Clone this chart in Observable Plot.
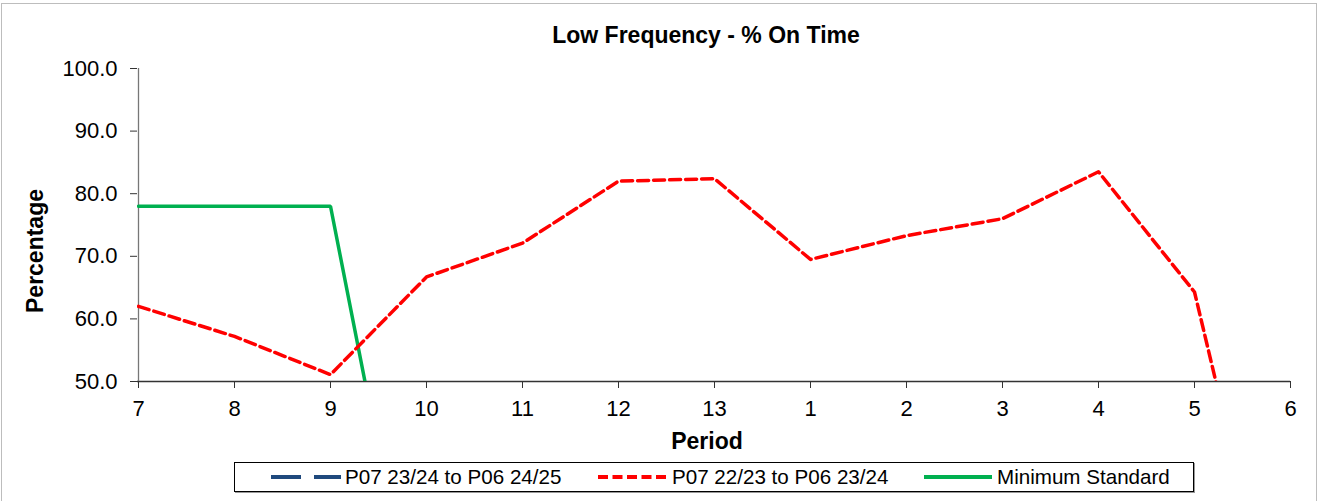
<!DOCTYPE html>
<html>
<head>
<meta charset="utf-8">
<script src="https://cdn.jsdelivr.net/npm/d3@7"></script>
<script src="https://cdn.jsdelivr.net/npm/@observablehq/plot@0.6"></script>
<style>
  html, body { margin: 0; padding: 0; background: #fff; }
  body { width: 1322px; height: 501px; overflow: hidden; position: relative; font-family: "Liberation Sans", Arial, sans-serif; }
  #frame { position: absolute; left: 1px; top: 3px; width: 1316px; height: 520px; border: 1px solid #bdbdbd; box-sizing: border-box; }
  #chart { position: absolute; left: 0; top: 0; }
  #legend { position: absolute; left: 234px; top: 462px; width: 960px; height: 30px; border: 1px solid #000; box-sizing: border-box; background: #fff; font-size: 20.6px; color: #000; box-shadow: 1px 1px 0 #999; }
  .sw { position: absolute; top: 9px; }
  .lt { position: absolute; top: 2px; line-height: 24px; white-space: nowrap; }
</style>
</head>
<body>
<div id="frame"></div>
<div id="chart"></div>
<div id="legend">
  <svg class="sw" style="left:35px" width="72" height="10"><line x1="1" y1="5" x2="71" y2="5" stroke="#1F497D" stroke-width="4" stroke-dasharray="30,13"/></svg>
  <span class="lt" style="left:110px" id="l0"></span>
  <svg class="sw" style="left:362px" width="70" height="10"><line x1="1" y1="5" x2="69" y2="5" stroke="#FF0000" stroke-width="4" stroke-dasharray="10,4.5"/></svg>
  <span class="lt" style="left:437px" id="l1"></span>
  <svg class="sw" style="left:688px" width="70" height="10"><line x1="1" y1="5" x2="69" y2="5" stroke="#00B050" stroke-width="4"/></svg>
  <span class="lt" style="left:762px" id="l2"></span>
</div>
<script>
const periods = ["7","8","9","10","11","12","13","1","2","3","4","5","6"];
const seriesNames = ["P07 23/24 to P06 24/25", "P07 22/23 to P06 23/24", "Minimum Standard"];
const currentYear = []; // no values plotted
const previousYear = [62.0, 57.2, 51.1, 66.7, 72.1, 82.0, 82.4, 69.5, 73.3, 76.0, 83.5, 64.3, 0];
const minimumStandard = [78, 78, 78, 0, 0, 0, 0, 0, 0, 0, 0, 0, 0];
const yTicks = [50, 60, 70, 80, 90, 100];
const titleText = "Low Frequency - % On Time";
const xLabel = "Period";
const yLabel = "Percentage";

document.getElementById("l0").textContent = seriesNames[0];
document.getElementById("l1").textContent = seriesNames[1];
document.getElementById("l2").textContent = seriesNames[2];

const cur = currentYear.map((v, i) => ({p: periods[i], v}));
const prev = previousYear.map((v, i) => ({p: periods[i], v}));
const minStd = minimumStandard.map((v, i) => ({p: periods[i], v}));

const chart = Plot.plot({
  width: 1322,
  height: 460,
  marginLeft: 137,
  marginRight: 32,
  marginTop: 68,
  marginBottom: 79,
  clip: true,
  style: {fontFamily: "'Liberation Sans', Arial, sans-serif", background: "transparent", overflow: "visible"},
  x: {type: "point", domain: periods, padding: 0},
  y: {domain: [50, 100]},
  marks: [
    Plot.axisX({ticks: periods, tickSize: 7, tickPadding: 12, fontSize: 22, label: null, stroke: "#333", color: "#000", clip: false}),
    Plot.axisY({ticks: yTicks, tickSize: 7, tickPadding: 13, fontSize: 22, label: null, tickFormat: d3.format(".1f"), stroke: "#333", color: "#000", clip: false}),
    Plot.ruleY([50], {stroke: "#333", strokeWidth: 1.3, clip: false}),
    Plot.ruleX([periods[0]], {stroke: "#777", strokeWidth: 1.3, clip: false}),
    Plot.line(cur, {x: "p", y: "v", stroke: "#1F497D", strokeWidth: 3.5, strokeDasharray: "30,13"}),
    Plot.line(minStd, {x: "p", y: "v", stroke: "#00B050", strokeWidth: 3.5, strokeLinejoin: "miter"}),
    Plot.line(prev, {x: "p", y: "v", stroke: "#FF0000", strokeWidth: 3.5, strokeDasharray: "11,5", strokeLinejoin: "round"}),
    Plot.text([titleText], {frameAnchor: "top", dx: -8, dy: -42, fontSize: 23, fontWeight: "bold", fill: "#000", clip: false}),
    Plot.text([xLabel], {frameAnchor: "bottom", dx: -7, dy: 67, fontSize: 23, fontWeight: "bold", fill: "#000", clip: false}),
    Plot.text([yLabel], {frameAnchor: "left", textAnchor: "middle", dx: -102, dy: 26, rotate: -90, fontSize: 23, fontWeight: "bold", fill: "#000", clip: false})
  ]
});
document.getElementById("chart").appendChild(chart);
</script>
</body>
</html>
